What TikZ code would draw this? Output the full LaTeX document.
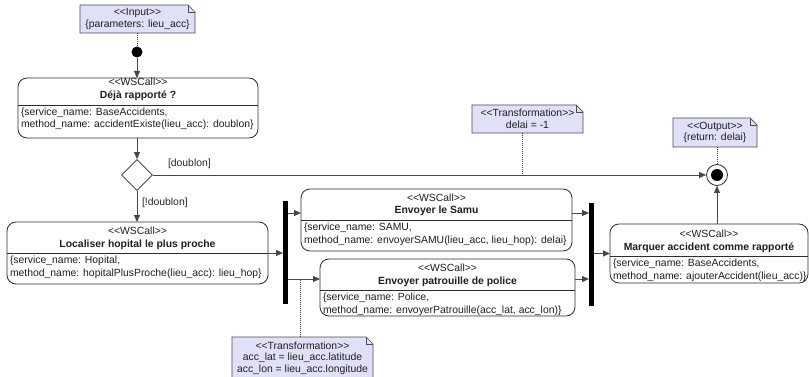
\documentclass[tikz,border=0pt]{standalone}
\usepackage{fontspec}
\setmainfont{Liberation Sans}
\usetikzlibrary{arrows.meta,shapes.geometric,backgrounds}

\definecolor{notefill}{RGB}{224,224,248}
\definecolor{inkline}{RGB}{45,45,45}

% stereotype brackets, kept apart so they do not turn into guillemets
\newcommand\stereo[1]{<\kern0pt<#1>\kern0pt>}
\newcommand\wsfont{\fontsize{10.4}{12.5}\selectfont}

% web-service call activity: name, left, top, right, bottom, separator y,
% title, service line, method line
\newcommand\wscall[9]{%
  \node[wsbox, minimum width={#4-#2}, minimum height={#5-#3}, anchor=north west] (#1) at (#2,#3) {};
  \draw[sepline] (#1.west |- 0,#6) -- (#1.east |- 0,#6);
  \node[wstext, anchor=base] (#1-kind) at ({(#2+#4)/2},#6-19) {\stereo{WSCall}};
  \node[wstext, font=\wsfont\bfseries, anchor=base] (#1-name) at ({(#2+#4)/2},#6-6) {#7};
  \node[wstext, anchor=base west] (#1-svc) at (#2+3,#6+10.5) {#8};
  \node[wstext, anchor=base west] (#1-mth) at (#2+3,#6+23) {#9};
}

% note outline with a folded top-right corner
\newcommand\noteframe[1]{%
  \filldraw[noteline] (#1.north west) -- ([xshift=-7pt]#1.north east)
    -- ([yshift=-7pt]#1.north east) -- (#1.south east) -- (#1.south west) -- cycle;
  \draw[noteline, fill=none] ([xshift=-7pt]#1.north east) |- ([yshift=-7pt]#1.north east);
}

\tikzset{
  wsbox/.style={draw=inkline, line width=0.8pt, rounded corners=9pt, fill=white,
    inner sep=0, outer sep=0},
  sepline/.style={draw=inkline, line width=0.7pt},
  wstext/.style={inner sep=0, outer sep=0, font=\wsfont, text=black!88},
  note/.style={align=center, inner sep=0, outer sep=0,
    font=\fontsize{10.4}{11.5}\selectfont, text=black!88},
  noteline/.style={draw=black!70, line width=0.7pt, fill=notefill},
  conn/.style={draw=black!72, line width=0.8pt,
    -{Triangle[length=7pt,width=6pt]}, shorten >=0pt},
  link/.style={draw=black!75, line width=0.8pt, dash pattern=on 1pt off 1pt},
  bar/.style={fill=black, draw=none, inner sep=0, outer sep=0},
  guard/.style={inner sep=0, outer sep=0, font=\wsfont, text=black!85},
}

\begin{document}
\begin{tikzpicture}[x=1pt, y=-1pt]
\useasboundingbox (0,0) rectangle (809,377);

% notes
\node[note, minimum width=115, minimum height=28] (in) at (137.5,19)
  {\stereo{Input}\\\{parameters: lieu\_acc\}};
\node[note, minimum width=111, minimum height=28] (tr1) at (527.5,119)
  {\stereo{Transformation}\\delai = -1};
\node[note, minimum width=84, minimum height=29] (out) at (715,132.5)
  {\stereo{Output}\\\{return: delai\}};
\node[note, minimum width=141, minimum height=42] (tr2) at (302.5,358)
  {\stereo{Transformation}\\acc\_lat = lieu\_acc.latitude\\acc\_lon = lieu\_acc.longitude};

% start, decision and end
\node[circle, fill=black, minimum size=11, inner sep=0] (init) at (137,52) {};
\node[diamond, draw=inkline, line width=0.8pt, fill=white, minimum width=31,
  minimum height=31, inner sep=0] (dec) at (137,175) {};
\node[circle, draw=inkline, line width=0.8pt, fill=white, minimum size=21,
  inner sep=0] (final) at (717,175) {};
\fill[black] (final.center) circle (6);

% activities
\wscall{deja}{18}{78}{258}{138}{105}{Déjà rapporté ?}
  {\{service\_name: BaseAccidents,}{method\_name: accidentExiste(lieu\_acc): doublon\}}
\wscall{hop}{7}{222}{268}{284}{253}{Localiser hopital le plus proche}
  {\{service\_name: Hopital,}{method\_name: hopitalPlusProche(lieu\_acc): lieu\_hop\}}
\wscall{samu}{301}{189}{572}{251}{220}{Envoyer le Samu}
  {\{service\_name: SAMU,}{method\_name: envoyerSAMU(lieu\_acc, lieu\_hop): delai\}}
\wscall{police}{320}{259}{575}{316}{290}{Envoyer patrouille de police}
  {\{service\_name: Police,}{method\_name: envoyerPatrouille(acc\_lat, acc\_lon)\}}
\wscall{mark}{610}{224}{808}{283}{256}{Marquer accident comme rapporté}
  {\{service\_name: BaseAccidents,}{method\_name: ajouterAccident(lieu\_acc)\}}

% fork and join bars
\node[bar, minimum width=5, minimum height=103] (fork) at (285.5,252.5) {};
\node[bar, minimum width=5, minimum height=103] (join) at (591.5,254.5) {};

% control flow
\draw[conn] (init) -- (init |- deja.north);
\draw[conn] (dec.north |- deja.south) -- (dec.north);
\draw[conn] (dec.south) -- (dec.south |- hop.north);
\draw[conn] (dec.east) -- (final.west);
\node[guard, anchor=base west] (g-yes) at (168,167) {[doublon]};
\node[guard, anchor=base west] (g-no) at (142,206) {[!doublon]};
\draw[conn] (hop.east) -- (hop.east -| fork.west);
\draw[conn] (fork.east |- 0,213) -- (samu.west |- 0,213);
\draw[conn] (fork.east |- 0,279) -- (police.west |- 0,279);
\draw[conn] (samu.east |- 0,213) -- (join.west |- 0,213);
\draw[conn] (police.east |- 0,279) -- (join.west |- 0,279);
\draw[conn] (join.east |- mark.west) -- (mark.west);
\draw[conn] (final.south |- mark.north) -- (final.south);

% note attachments
\coordinate (tr1-foot) at (522,175);
\coordinate (tr2-foot) at (300,279);
\draw[link] (in.south -| init) -- (init.north);
\draw[link] (tr1-foot |- tr1.south) -- (tr1-foot);
\draw[link] (final.north |- out.south) -- (final.north);
\draw[link] (tr2-foot |- tr2.north) -- (tr2-foot);

\begin{scope}[on background layer]
  \noteframe{in}
  \noteframe{tr1}
  \noteframe{out}
  \noteframe{tr2}
\end{scope}
\end{tikzpicture}
\end{document}
